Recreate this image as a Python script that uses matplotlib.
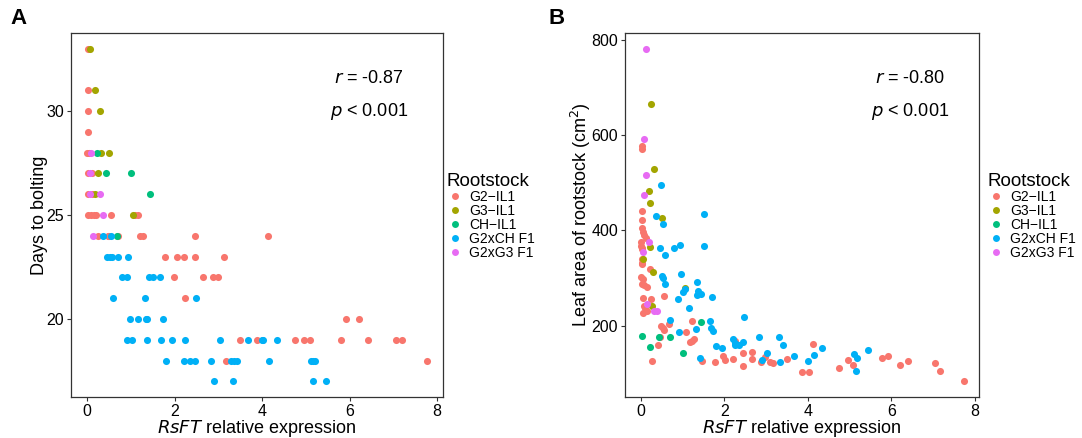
import matplotlib
matplotlib.use('Agg')
import matplotlib.pyplot as plt
from matplotlib.lines import Line2D

plt.rcParams['font.family'] = ['Liberation Sans', 'DejaVu Sans']

groups = ['G2\u2212IL1', 'G3\u2212IL1', 'CH\u2212IL1', 'G2xCH F1', 'G2xG3 F1']
colors = ['#F8766D', '#A3A500', '#00BF7D', '#00B0F6', '#E76BF3']

# panel A: days to bolting vs RsFT expression
a_x = {
    'G2\u2212IL1': [0.03, 0.02, 0.02, 0.03, 0.0, 0.05, 0.02, 0.11, 0.02, 0.11,
                    0.03, 0.1, 0.15, 0.2, 0.55, 1.1, 1.17,
                    0.24, 0.47, 0.5, 0.7, 1.21, 1.27, 2.47, 4.14,
                    1.79, 2.05, 2.22, 2.47, 3.12,
                    1.99, 2.66, 2.89, 3.0, 2.24, 5.92, 6.22,
                    3.5, 3.88, 4.76, 4.97, 5.1, 5.81, 6.42, 7.06, 7.19,
                    3.18, 7.76],
    'G3\u2212IL1': [0.07, 0.18, 0.29, 0.31, 0.5, 0.24, 0.19, 1.04],
    'CH\u2212IL1': [0.22, 0.43, 1.0, 1.43, 0.68],
    'G2xCH F1': [0.37, 0.55, 0.45, 0.53, 0.56, 0.7, 0.94,
                 0.8, 0.91, 1.42, 1.5, 1.67, 0.59, 1.33, 2.48,
                 0.98, 1.17, 1.35, 1.38, 1.74,
                 0.91, 1.03, 1.38, 1.69, 1.95, 2.24, 3.03, 3.67, 4.01, 4.03, 4.34,
                 1.8, 2.21, 2.35, 2.46, 2.83, 3.3, 3.36, 3.42, 4.17, 5.12, 5.17, 5.2,
                 2.9, 3.33, 5.16, 5.46],
    'G2xG3 F1': [0.09, 0.07, 0.07, 0.29, 0.36, 0.13],
}
a_y = {
    'G2\u2212IL1': [33, 31, 30, 29, 28, 28, 27, 27, 26, 26,
                    25, 25, 25, 25, 25, 25, 25,
                    24, 24, 24, 24, 24, 24, 24, 24,
                    23, 23, 23, 23, 23,
                    22, 22, 22, 22, 21, 20, 20,
                    19, 19, 19, 19, 19, 19, 19, 19, 19,
                    18, 18],
    'G3\u2212IL1': [33, 31, 30, 28, 28, 27, 26, 25],
    'CH\u2212IL1': [28, 27, 27, 26, 24],
    'G2xCH F1': [24, 24, 23, 23, 23, 23, 23,
                 22, 22, 22, 22, 22, 21, 21, 21,
                 20, 20, 20, 20, 20,
                 19, 19, 19, 19, 19, 19, 19, 19, 19, 19, 19,
                 18, 18, 18, 18, 18, 18, 18, 18, 18, 18, 18, 18,
                 17, 17, 17, 17],
    'G2xG3 F1': [28, 27, 26, 26, 25, 24],
}

# panel B: leaf area of rootstock vs RsFT expression
b_x = {
    'G2\u2212IL1': [0.02, 0.02, 0.02, 0.02, 0.02, 0.02, 0.06, 0.08, 0.11, 0.0, 0.0,
                    0.03, 0.03, 0.02, 0.02, 0.21, 0.01, 0.04, 0.02, 0.08, 0.14,
                    0.54, 0.04, 0.25, 0.08, 0.1, 0.06, 0.14, 0.68, 1.21, 0.47,
                    0.52, 0.55, 1.09, 0.46, 1.27, 1.21, 1.17, 0.41, 2.45, 2.65,
                    1.97, 2.01, 2.21, 2.65, 2.97, 3.49, 1.45, 0.26, 1.77, 2.87,
                    3.1, 3.17, 2.45, 2.25, 3.86, 4.02, 4.12, 4.75, 4.95, 5.07,
                    5.78, 5.91, 6.2, 6.39, 7.04, 7.17, 7.74],
    'G3\u2212IL1': [0.25, 0.3, 0.18, 0.22, 0.5, 0.22, 0.06, 0.28, 1.05, 0.26],
    'CH\u2212IL1': [1.44, 0.02, 0.42, 0.7, 0.22, 1.01],
    'G2xCH F1': [0.48, 0.37, 1.5, 0.53, 0.46, 0.79, 0.93, 1.52, 0.57, 0.96,
                 0.51, 0.53, 1.33, 0.57, 1.36, 1.01, 1.05, 1.34, 1.43, 1.69,
                 0.89, 1.15, 0.69, 1.65, 2.47, 1.32, 1.67, 1.73, 0.91, 2.2,
                 2.82, 3.3, 2.24, 2.45, 2.25, 2.35, 3.39, 1.79, 1.94, 3.01,
                 1.41, 2.91, 3.66, 3.33, 4.01, 4.15, 4.33, 5.1, 5.18, 5.14, 5.44],
    'G2xG3 F1': [0.13, 0.07, 0.11, 0.07, 0.2, 0.06, 0.14, 0.31, 0.38],
}
b_y = {
    'G2\u2212IL1': [577, 572, 441, 422, 404, 339, 397, 390, 383, 376, 367,
                    362, 360, 332, 330, 318, 303, 297, 287, 285, 282,
                    263, 259, 256, 241, 236, 227, 231, 203, 209, 200,
                    196, 191, 187, 177, 172, 168, 165, 159, 142, 145,
                    136, 128, 130, 130, 133, 130, 126, 126, 124, 124,
                    124, 121, 116, 168, 103, 103, 161, 111, 128, 117,
                    131, 136, 117, 126, 122, 105, 84],
    'G3\u2212IL1': [665, 529, 483, 458, 426, 366, 340, 313, 280, 242],
    'CH\u2212IL1': [207, 179, 175, 175, 154, 143],
    'G2xCH F1': [495, 431, 434, 414, 362, 364, 369, 368, 349, 308,
                 304, 301, 292, 287, 273, 271, 276, 264, 266, 261,
                 255, 236, 212, 210, 218, 193, 194, 188, 186, 172,
                 177, 175, 163, 165, 159, 159, 159, 158, 152, 142,
                 132, 128, 137, 124, 126, 138, 152, 140, 132, 105, 148],
    'G2xG3 F1': [782, 592, 517, 474, 376, 355, 245, 231, 231],
}


def draw_panel(ax, xs, ys):
    for g, c in zip(groups, colors):
        ax.scatter(xs[g], ys[g], s=26, color=c, linewidths=0, zorder=3)
    for side in ['left', 'bottom', 'top', 'right']:
        ax.spines[side].set_linewidth(0.9)
        ax.spines[side].set_color('#333333')
    ax.tick_params(labelsize=11.5, length=3, width=0.8, colors='#333333',
                   labelcolor='black', pad=2)
    ax.set_xticks([0, 2, 4, 6, 8])
    ax.set_xlabel('$\\it{RsFT}$ relative expression', fontsize=13, labelpad=-1)


fig = plt.figure(figsize=(10.82, 4.38), dpi=100)

ax1 = fig.add_axes([71 / 1082, 41 / 438, 372 / 1082, 364 / 438])
draw_panel(ax1, a_x, a_y)
ax1.set_xlim(-0.366, 8.137)
ax1.set_ylim(16.25, 33.75)
ax1.set_yticks([20, 25, 30])
ax1.set_ylabel('Days to bolting', fontsize=13, labelpad=-1)
ax1.text(0.80, 0.874, '$\\it{r}$ = -0.87', transform=ax1.transAxes, ha='center', va='center', fontsize=13)
ax1.text(0.80, 0.783, '$\\it{p}$ < 0.001', transform=ax1.transAxes, ha='center', va='center', fontsize=13)

ax2 = fig.add_axes([625 / 1082, 41 / 438, 354 / 1082, 364 / 438])
draw_panel(ax2, b_x, b_y)
ax2.set_xlim(-0.383, 8.096)
ax2.set_ylim(50, 814.7)
ax2.set_yticks([200, 400, 600, 800])
ax2.set_ylabel('Leaf area of rootstock (cm$^2$)', fontsize=13, labelpad=-1)
ax2.text(0.805, 0.874, '$\\it{r}$ = -0.80', transform=ax2.transAxes, ha='center', va='center', fontsize=13)
ax2.text(0.805, 0.783, '$\\it{p}$ < 0.001', transform=ax2.transAxes, ha='center', va='center', fontsize=13)

fig.text(10 / 1082, 1 - 18 / 438, 'A', fontsize=16, fontweight='bold', va='center')
fig.text(548 / 1082, 1 - 18 / 438, 'B', fontsize=16, fontweight='bold', va='center')

handles = [Line2D([], [], marker='o', linestyle='', markersize=5, markerfacecolor=c,
                  markeredgewidth=0) for c in colors]
for xpos in [437 / 1082, 978 / 1082]:
    leg = fig.legend(handles, groups, loc='upper left', bbox_to_anchor=(xpos, 1 - 163 / 438),
                     frameon=False, title='Rootstock', fontsize=10, title_fontsize=13.5,
                     handletextpad=0.4, labelspacing=0.0, handlelength=1.2, borderpad=0.2)
    leg._legend_box.align = 'left'

fig.savefig('out.png', dpi=100)
